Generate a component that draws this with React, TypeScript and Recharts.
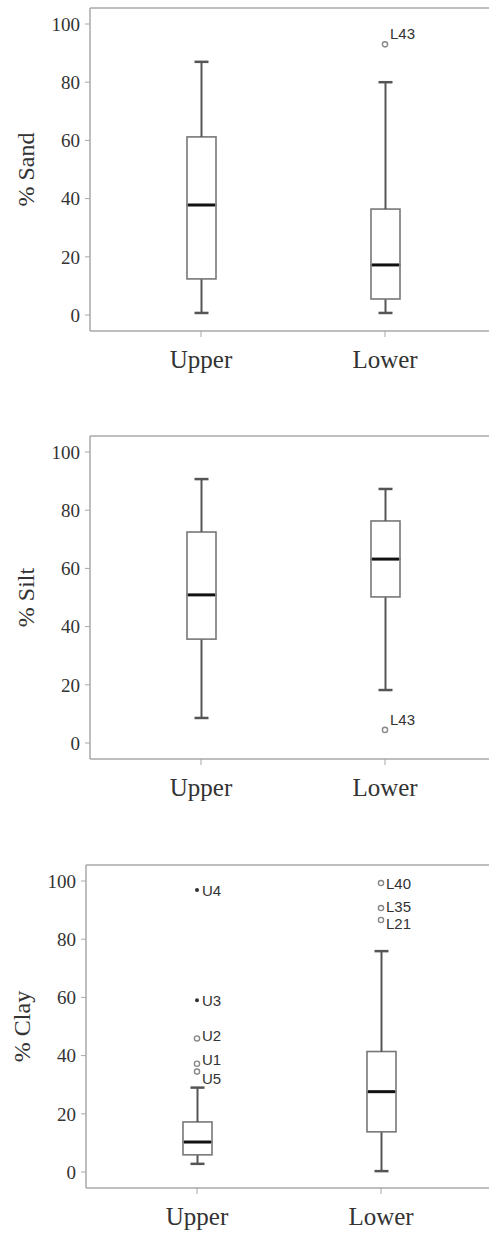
import {
  Bar,
  ComposedChart,
  LabelList,
  ReferenceLine,
  Scatter,
  XAxis,
  YAxis,
} from "recharts";

const CATEGORIES = ["Upper", "Lower"];
const Y_TICKS = [0, 20, 40, 60, 80, 100];
const Y_MIN = -5.5;
const Y_MAX = 105.5;

// five-number summaries, ordered as CATEGORIES
const sandLow = [0.7, 0.7];
const sandQ1 = [12.4, 5.5];
const sandMedian = [37.8, 17.2];
const sandQ3 = [61.2, 36.4];
const sandHigh = [87, 80];

const siltLow = [8.6, 18.2];
const siltQ1 = [35.7, 50.2];
const siltMedian = [50.9, 63.2];
const siltQ3 = [72.5, 76.3];
const siltHigh = [90.7, 87.3];

const clayLow = [2.8, 0.3];
const clayQ1 = [5.9, 13.8];
const clayMedian = [10.3, 27.6];
const clayQ3 = [17.2, 41.4];
const clayHigh = [29, 75.9];

type Outlier = { group: string; value: number; id: string; extreme?: boolean };

const sandOutliers: Outlier[] = [{ group: "Lower", value: 93, id: "L43" }];
const siltOutliers: Outlier[] = [{ group: "Lower", value: 4.5, id: "L43" }];
const clayOutliers: Outlier[] = [
  { group: "Upper", value: 96.9, id: "U4", extreme: true },
  { group: "Upper", value: 59, id: "U3", extreme: true },
  { group: "Upper", value: 45.9, id: "U2" },
  { group: "Upper", value: 37.2, id: "U1" },
  { group: "Upper", value: 34.5, id: "U5" },
  { group: "Lower", value: 99.3, id: "L40" },
  { group: "Lower", value: 90.7, id: "L35" },
  { group: "Lower", value: 86.6, id: "L21" },
];

// nudges so the case labels don't sit on top of each other
const LABEL_DY: Record<string, number> = {
  L43: -11,
  U2: -3,
  U1: -4,
  U5: 7,
  L35: -2,
  L21: 4,
};
const SILT_LABEL_DY: Record<string, number> = { L43: -10 };

const FRAME = "#a8a8a8";
const WHISKER = "#555";
const BOX = "#777";
const SERIF = "'Liberation Serif', 'Times New Roman', serif";
const SANS = "'Liberation Sans', Arial, sans-serif";

function buildRows(
  low: number[],
  q1: number[],
  median: number[],
  q3: number[],
  high: number[],
) {
  return CATEGORIES.map((group, i) => ({
    group,
    base: low[i],
    lowWhisker: q1[i] - low[i],
    lowBox: median[i] - q1[i],
    highBox: q3[i] - median[i],
    highWhisker: high[i] - q3[i],
  }));
}

type ShapeProps = { x?: number; y?: number; width?: number; height?: number };

function LowWhisker({ x = 0, y = 0, width = 0, height = 0 }: ShapeProps) {
  const cx = x + width / 2;
  return (
    <g>
      <line x1={cx} x2={cx} y1={y} y2={y + height} stroke={WHISKER} strokeWidth={2} />
      <line x1={cx - 7} x2={cx + 7} y1={y + height} y2={y + height} stroke={WHISKER} strokeWidth={2.5} />
    </g>
  );
}

function HighWhisker({ x = 0, y = 0, width = 0, height = 0 }: ShapeProps) {
  const cx = x + width / 2;
  return (
    <g>
      <line x1={cx} x2={cx} y1={y} y2={y + height} stroke={WHISKER} strokeWidth={2} />
      <line x1={cx - 7} x2={cx + 7} y1={y} y2={y} stroke={WHISKER} strokeWidth={2.5} />
    </g>
  );
}

function LowBox({ x = 0, y = 0, width = 0, height = 0 }: ShapeProps) {
  return <rect x={x} y={y} width={width} height={height} fill="#fff" stroke={BOX} strokeWidth={1.6} />;
}

// upper half of the box; the median sits on its bottom edge so it is drawn last
function HighBox({ x = 0, y = 0, width = 0, height = 0 }: ShapeProps) {
  return (
    <g>
      <rect x={x} y={y} width={width} height={height} fill="#fff" stroke={BOX} strokeWidth={1.6} />
      <line x1={x + 1} x2={x + width - 1} y1={y + height} y2={y + height} stroke="#111" strokeWidth={3} />
    </g>
  );
}

function OutlierDot(props: { cx?: number; cy?: number; payload?: Outlier }) {
  const { cx = 0, cy = 0, payload } = props;
  if (payload?.extreme) return <circle cx={cx} cy={cy} r={2} fill="#333" />;
  return <circle cx={cx} cy={cy} r={2.6} fill="#fff" stroke="#888" strokeWidth={1.4} />;
}

type PanelProps = {
  label: string;
  rows: ReturnType<typeof buildRows>;
  outliers: Outlier[];
  labelDy: Record<string, number>;
};

// the frame runs past the right edge of the page, so the plot area is wider than what is shown
function BoxPanel({ label, rows, outliers, labelDy }: PanelProps) {
  return (
    <ComposedChart
      width={540}
      height={400}
      data={rows}
      margin={{ top: 8, right: 20, left: 0, bottom: 0 }}
      barSize={29}
    >
      <XAxis
        dataKey="group"
        allowDuplicatedCategory={false}
        padding={{ left: 19, right: 43 }}
        height={69}
        stroke={FRAME}
        axisLine={{ stroke: FRAME, strokeWidth: 1.5 }}
        tickLine={{ stroke: FRAME }}
        tickSize={6}
        tickMargin={13}
        tick={{ fontSize: 25, fill: "#333", fontFamily: SERIF }}
      />
      <YAxis
        domain={[Y_MIN, Y_MAX]}
        ticks={Y_TICKS}
        width={90}
        stroke={FRAME}
        axisLine={{ stroke: FRAME, strokeWidth: 1.5 }}
        tickLine={{ stroke: FRAME }}
        tickSize={5}
        tickMargin={5}
        tick={{ fontSize: 19, fill: "#333", fontFamily: SERIF }}
        label={{
          value: label,
          angle: -90,
          position: "insideLeft",
          offset: 25,
          style: { textAnchor: "middle", fontSize: 24, fill: "#333", fontFamily: SERIF },
        }}
      />
      <ReferenceLine y={Y_MAX} stroke={FRAME} strokeWidth={1.5} />
      <Bar dataKey="base" stackId="box" fill="transparent" isAnimationActive={false} />
      <Bar dataKey="lowWhisker" stackId="box" shape={(p: ShapeProps) => <LowWhisker {...p} />} isAnimationActive={false} />
      <Bar dataKey="lowBox" stackId="box" shape={(p: ShapeProps) => <LowBox {...p} />} isAnimationActive={false} />
      <Bar dataKey="highBox" stackId="box" shape={(p: ShapeProps) => <HighBox {...p} />} isAnimationActive={false} />
      <Bar dataKey="highWhisker" stackId="box" shape={(p: ShapeProps) => <HighWhisker {...p} />} isAnimationActive={false} />
      <Scatter
        data={outliers}
        dataKey="value"
        shape={(p: any) => <OutlierDot {...p} />}
        isAnimationActive={false}
      >
        <LabelList
          dataKey="id"
          content={(p: any) => {
            const cx = Number(p.x) + Number(p.width) / 2;
            const cy = Number(p.y) + Number(p.height) / 2;
            const id = String(p.value);
            return (
              <text
                x={cx + 5}
                y={cy + (labelDy[id] ?? 0)}
                dominantBaseline="central"
                fontSize={15}
                fill="#333"
                fontFamily={SANS}
              >
                {id}
              </text>
            );
          }}
        />
      </Scatter>
    </ComposedChart>
  );
}

const sandRows = buildRows(sandLow, sandQ1, sandMedian, sandQ3, sandHigh);
const siltRows = buildRows(siltLow, siltQ1, siltMedian, siltQ3, siltHigh);
const clayRows = buildRows(clayLow, clayQ1, clayMedian, clayQ3, clayHigh);

export default function App() {
  return (
    <>
      <style>{"html, body { margin: 0; overflow: hidden; background: #fff; }"}</style>
      <div style={{ position: "absolute", left: 0, top: 0 }}>
        <BoxPanel label="% Sand" rows={sandRows} outliers={sandOutliers} labelDy={LABEL_DY} />
      </div>
      <div style={{ position: "absolute", left: 0, top: 428 }}>
        <BoxPanel label="% Silt" rows={siltRows} outliers={siltOutliers} labelDy={SILT_LABEL_DY} />
      </div>
      <div style={{ position: "absolute", left: -4, top: 857 }}>
        <BoxPanel label="% Clay" rows={clayRows} outliers={clayOutliers} labelDy={LABEL_DY} />
      </div>
    </>
  );
}
